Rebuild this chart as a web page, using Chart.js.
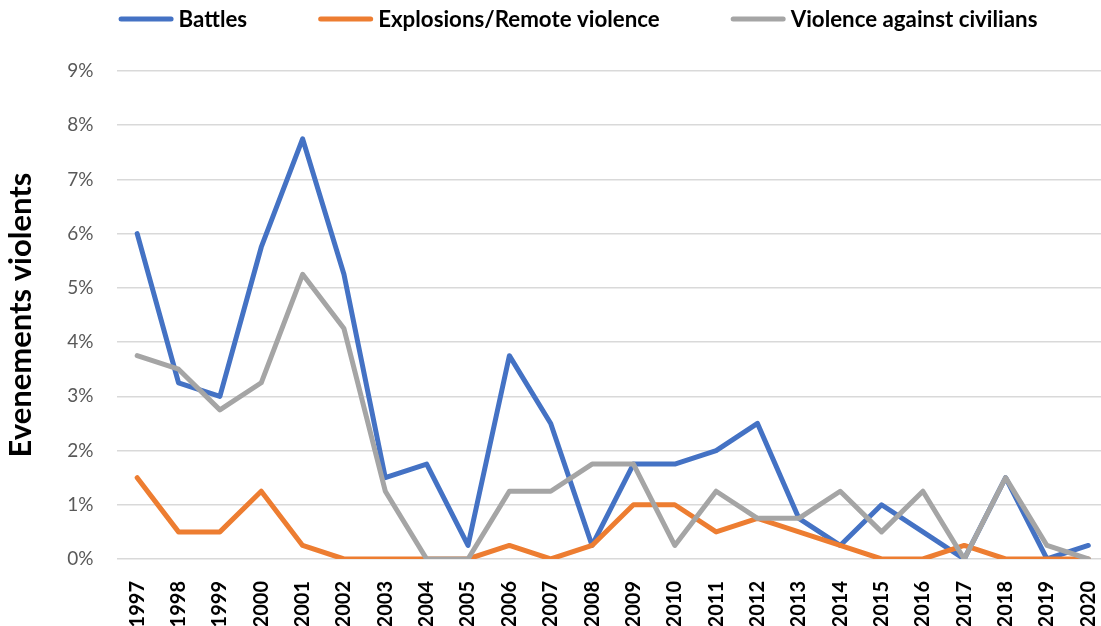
<!DOCTYPE html>
<html>
<head>
<meta charset="utf-8">
<script src="https://cdn.jsdelivr.net/npm/chart.js@4.4.1/dist/chart.umd.min.js"></script>
<style>
  html, body { margin: 0; padding: 0; background: #ffffff; overflow: hidden; width: 1101px; height: 626px; }
  #wrap { position: absolute; left: 0; top: 0; width: 1109px; height: 626px; }
</style>
</head>
<body>
<div id="wrap"><canvas id="c" width="1109" height="626"></canvas></div>
<script>
const years = ['1997','1998','1999','2000','2001','2002','2003','2004','2005','2006','2007','2008','2009','2010','2011','2012','2013','2014','2015','2016','2017','2018','2019','2020'];
const battles =    [6.0, 3.25, 3.0, 5.75, 7.75, 5.25, 1.5, 1.75, 0.25, 3.75, 2.5, 0.25, 1.75, 1.75, 2.0, 2.5, 0.75, 0.25, 1.0, 0.5, 0.0, 1.5, 0.0, 0.25];
const explosions = [1.5, 0.5, 0.5, 1.25, 0.25, 0.0, 0.0, 0.0, 0.0, 0.25, 0.0, 0.25, 1.0, 1.0, 0.5, 0.75, 0.5, 0.25, 0.0, 0.0, 0.25, 0.0, 0.0, 0.0];
const civilians =  [3.75, 3.5, 2.75, 3.25, 5.25, 4.25, 1.25, 0.0, 0.0, 1.25, 1.25, 1.75, 1.75, 0.25, 1.25, 0.75, 0.75, 1.25, 0.5, 1.25, 0.0, 1.5, 0.25, 0.0];
const seriesNames = ['Battles', 'Explosions/Remote violence', 'Violence against civilians'];
const seriesColors = ['#4472C4', '#ED7D31', '#A5A5A5'];
const yTitle = 'Evenements violents';

const FONT = 'Lato, "Open Sans", sans-serif';

const legendPlugin = {
  id: 'excelLegend',
  afterDraw(chart) {
    const ctx = chart.ctx;
    const ds = chart.data.datasets;
    const lineLen = 55, textGap = 5, itemGap = 71, cy = 19, centerX = 578;
    ctx.save();
    ctx.font = 'bold 22.3px ' + FONT;
    const widths = ds.map(d => ctx.measureText(d.label).width);
    let total = 0;
    widths.forEach((w, i) => { total += lineLen + textGap + w + (i < widths.length - 1 ? itemGap : 0); });
    let x = centerX - total / 2;
    ds.forEach((d, i) => {
      ctx.strokeStyle = d.borderColor;
      ctx.lineWidth = 5;
      ctx.lineCap = 'round';
      ctx.beginPath();
      ctx.moveTo(x + 2.5, cy);
      ctx.lineTo(x + lineLen - 2.5, cy);
      ctx.stroke();
      ctx.fillStyle = '#000000';
      ctx.textBaseline = 'middle';
      ctx.textAlign = 'left';
      ctx.fillText(d.label, x + lineLen + textGap, cy + 1);
      x += lineLen + textGap + widths[i] + itemGap;
    });
    ctx.restore();
  }
};

const seriesData = [battles, explosions, civilians];
const datasets = seriesData.map((vals, i) => ({
  label: seriesNames[i],
  data: vals,
  borderColor: seriesColors[i],
  backgroundColor: seriesColors[i],
  borderWidth: 5,
  pointRadius: 0,
  pointHoverRadius: 0,
  tension: 0,
  fill: false,
  borderCapStyle: 'round',
  borderJoinStyle: 'round',
  order: seriesData.length - i
}));

new Chart(document.getElementById('c'), {
  type: 'line',
  data: { labels: years, datasets },
  options: {
    responsive: false,
    animation: false,
    events: [],
    layout: { padding: { top: 71, left: 0, right: 0, bottom: 0 } },
    plugins: { legend: { display: false }, tooltip: { enabled: false } },
    scales: {
      x: {
        offset: true,
        grid: { display: false },
        border: { display: false },
        ticks: {
          color: '#000000',
          font: { family: FONT, size: 20, weight: 'bold' },
          minRotation: 90,
          maxRotation: 90,
          padding: 14,
          autoSkip: false
        },
        afterFit(scale) {
          scale.height = 67;
          scale.paddingLeft = 0;
          scale.paddingRight = 0;
        }
      },
      y: {
        min: 0,
        max: 9,
        grid: { color: '#D9D9D9', lineWidth: 1.5, drawTicks: false },
        border: { display: false },
        ticks: {
          stepSize: 1,
          color: '#595959',
          font: { family: FONT, size: 19 },
          padding: 23,
          callback: v => v + '%'
        },
        title: {
          display: true,
          text: yTitle,
          color: '#000000',
          font: { family: FONT, size: 31, weight: 'bold' },
          padding: { top: 2, bottom: 0 }
        },
        afterFit(scale) { scale.width = 116.5; }
      }
    }
  },
  plugins: [legendPlugin]
});
</script>
</body>
</html>
